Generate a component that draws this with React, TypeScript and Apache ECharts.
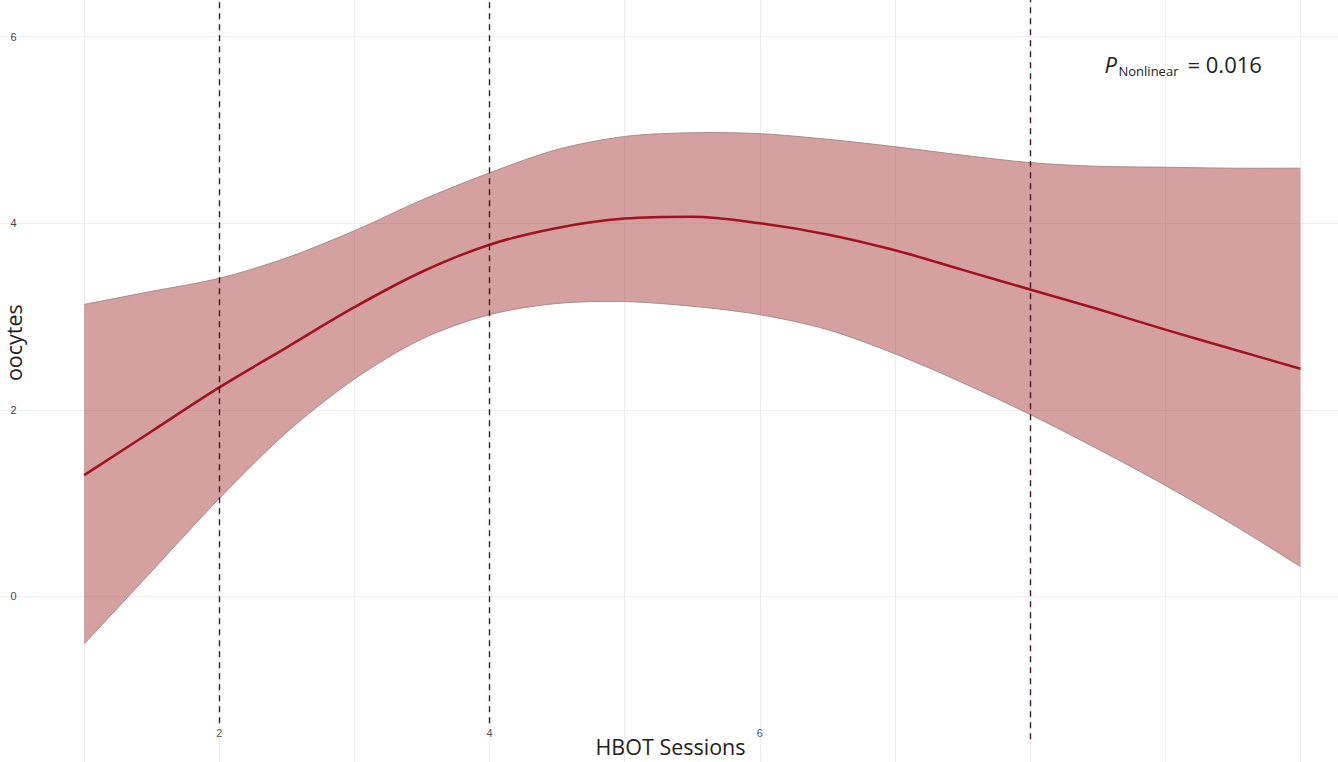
import React, { useEffect, useRef } from "react";
import * as echarts from "echarts";

const sessions = [1, 1.5, 2, 2.5, 3, 3.5, 4, 4.5, 5, 5.5, 6, 6.5, 7, 7.5, 8, 8.5, 9, 9.5, 10];
const fitValues = [1.3, 1.77, 2.24, 2.67, 3.1, 3.48, 3.77, 3.95, 4.05, 4.07, 4.0, 3.88, 3.71, 3.5, 3.29, 3.08, 2.86, 2.65, 2.44];
const upperValues = [3.13, 3.27, 3.41, 3.63, 3.92, 4.25, 4.54, 4.79, 4.93, 4.97, 4.96, 4.9, 4.82, 4.73, 4.65, 4.61, 4.6, 4.59, 4.59];
const lowerValues = [-0.51, 0.27, 1.05, 1.76, 2.33, 2.76, 3.02, 3.14, 3.16, 3.11, 3.02, 2.86, 2.6, 2.29, 1.95, 1.58, 1.19, 0.77, 0.32];
const knotPositions = [2, 4, 8];
const xTickLabels = [2, 4, 6];
const yTickLabels = [0, 2, 4, 6];
const pText = "0.016";

// page geometry (pixels per unit) used to place the oversized chart canvas
const X_UNIT = 135.75;
const Y_UNIT = 93.333;
const OFF_LEFT = 217 - 2 * X_UNIT; // page x of value 0
const OFF_TOP = 597 - 6.5 * Y_UNIT; // page y of value 6.5
const CHART_W = 10.5 * X_UNIT;
const CHART_H = 8.5 * Y_UNIT;

export default function App() {
  const ref = useRef<HTMLDivElement>(null);
  useEffect(() => {
    if (!ref.current) return;
    const chart = echarts.init(ref.current, null, { renderer: "svg" });
    const px = (x: number) => x - OFF_LEFT;
    const py = (y: number) => y - OFF_TOP;
    const fitData = sessions.map((x, i) => [x, fitValues[i]]);
    const smooth = 0.35;
    const option: any = {
      animation: false,
      backgroundColor: "#ffffff",
      grid: { left: 0, top: 0, right: 0, bottom: 0, containLabel: false },
      xAxis: {
        type: "value",
        min: 0,
        max: 10.5,
        interval: 1,
        offset: py(728) - CHART_H,
        axisLine: { show: false },
        axisTick: { show: false },
        splitLine: { show: true, lineStyle: { color: "#eceef3", width: 1 } },
        axisLabel: {
          margin: 0,
          fontSize: 11,
          color: "#555",
          fontFamily: "Liberation Sans",
          formatter: (v: number) => (xTickLabels.includes(v) ? String(v) : ""),
        },
      },
      yAxis: {
        type: "value",
        min: -2,
        max: 6.5,
        interval: 2,
        offset: -px(10),
        axisLine: { show: false },
        axisTick: { show: false },
        splitLine: { show: true, lineStyle: { color: "#eceef3", width: 1 } },
        axisLabel: {
          margin: 0,
          align: "center",
          fontSize: 11,
          color: "#444",
          fontFamily: "Liberation Sans",
          formatter: (v: number) => (yTickLabels.includes(v) ? String(v) : ""),
        },
      },
      series: [
        {
          type: "custom",
          name: "band",
          silent: true,
          data: [[0]],
          renderItem: (params: any, api: any) => {
            const up = sessions.map((x, i) => api.coord([x, upperValues[i]]));
            const lo = sessions.map((x, i) => api.coord([x, lowerValues[i]]));
            const loRev = lo.slice().reverse();
            // corner points doubled so the closed smooth outline keeps sharp corners
            const poly = [up[0]]
              .concat(up)
              .concat([up[up.length - 1], loRev[0]])
              .concat(loRev)
              .concat([loRev[loRev.length - 1]]);
            return {
              type: "group",
              children: [
                {
                  type: "polygon",
                  shape: { points: poly, smooth: 0.3 },
                  style: { fill: "rgba(172, 66, 66, 0.5)", stroke: "none" },
                },
                {
                  type: "polyline",
                  shape: { points: up, smooth: 0.3 },
                  style: { stroke: "#a88c8c", lineWidth: 1, fill: "none" },
                },
                {
                  type: "polyline",
                  shape: { points: lo, smooth: 0.3 },
                  style: { stroke: "#a88c8c", lineWidth: 1, fill: "none" },
                },
              ],
            };
          },
        },
        {
          type: "line",
          name: "fit",
          data: fitData,
          symbol: "none",
          smooth,
          z: 3,
          lineStyle: { color: "#a3101f", width: 2.5 },
          markLine: {
            silent: true,
            symbol: ["none", "none"],
            label: { show: false },
            lineStyle: { color: "#4a1525", width: 1.4, type: [6, 5] },
            data: knotPositions.map((k) => [
              { coord: [k, k === 8 ? -1.53 : -1.36] },
              { coord: [k, 6.4] },
            ]),
          },
        },
      ],
      graphic: [
        {
          type: "text",
          x: px(670),
          y: py(747),
          style: {
            text: "HBOT Sessions",
            fontFamily: "Open Sans",
            fontSize: 21.5,
            fill: "#222",
            align: "center",
            verticalAlign: "middle",
          },
        },
        {
          type: "text",
          x: px(13),
          y: py(343),
          rotation: Math.PI / 2,
          style: {
            text: "oocytes",
            fontFamily: "Open Sans",
            fontSize: 21.5,
            fill: "#222",
            align: "center",
            verticalAlign: "middle",
          },
        },
        {
          type: "text",
          x: px(1104),
          y: py(64),
          style: {
            text: "P",
            fontFamily: "Open Sans",
            fontStyle: "italic",
            fontSize: 22,
            fill: "#222",
            align: "left",
            verticalAlign: "middle",
          },
        },
        {
          type: "text",
          x: px(1118),
          y: py(71),
          style: {
            text: "Nonlinear",
            fontFamily: "Open Sans",
            fontSize: 13,
            fill: "#222",
            align: "left",
            verticalAlign: "middle",
          },
        },
        {
          type: "text",
          x: px(1187),
          y: py(64),
          style: {
            text: "= " + pText,
            fontFamily: "Open Sans",
            fontSize: 22,
            fill: "#222",
            align: "left",
            verticalAlign: "middle",
          },
        },
      ],
    };
    chart.setOption(option);
    return () => chart.dispose();
  }, []);
  return (
    <div
      style={{
        position: "fixed",
        left: 0,
        top: 0,
        width: 1338,
        height: 762,
        overflow: "hidden",
        background: "#fff",
      }}
    >
      <div
        ref={ref}
        style={{
          position: "absolute",
          left: OFF_LEFT,
          top: OFF_TOP,
          width: CHART_W,
          height: CHART_H,
        }}
      />
    </div>
  );
}
